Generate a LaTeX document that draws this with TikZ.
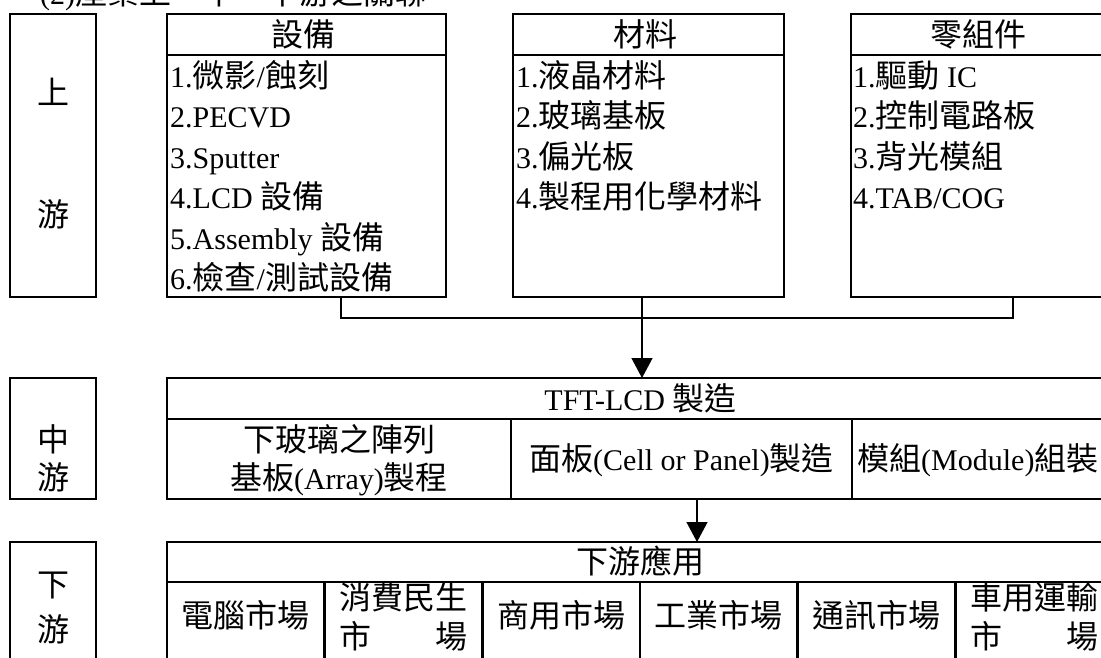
\documentclass[tikz,border=0pt]{standalone}
\usepackage{fontspec}
\setmainfont{Liberation Serif}
\newfontfamily\cjkf{Noto Sans CJK TC}[Scale=1.0667]
\newcommand\zh[1]{{\cjkf #1}}
\usetikzlibrary{arrows.meta}
\begin{document}
\begin{tikzpicture}[x=1pt,y=-1pt, font=\fontsize{30}{36}\selectfont,
  frame/.style={draw, line width=2.4pt, inner sep=0pt, outer sep=0pt},
  sepline/.style={line width=2.4pt},
  conn/.style={line width=1.3pt},
  txt/.style={inner sep=0pt, text height=23pt, text depth=0pt},
  item/.style={txt, anchor=west},
  tip/.style={-{Triangle[width=21pt,length=20pt]}}]
\clip (0,0) rectangle (1101,657);
\fill[white] (0,0) rectangle (1101,657);

% title (clipped at the top, as in the reference)
\node[item] (title) at (40,-7) {(2)\zh{產業上、中、下游之關聯}};

% ---------- upstream ----------
\node[frame, minimum width=86, minimum height=283] (upL) at (53,155.5) {};
\node[txt] (upA) at (53,93) {\zh{上}};
\node[txt] (upB) at (53,215) {\zh{游}};

\node[frame, minimum width=279, minimum height=283] (dev) at (306.5,155.5) {};
\draw[sepline] ([yshift=-41pt]dev.north west) -- ([yshift=-41pt]dev.north east);
\node[txt] (devH) at (303,34.5) {\zh{設備}};
\node[item] (dev1) at (170,76) {1.\zh{微影}/\zh{蝕刻}};
\node[item] (dev2) at (170,116) {2.PECVD};
\node[item] (dev3) at (170,157) {3.Sputter};
\node[item] (dev4) at (170,197) {4.LCD \zh{設備}};
\node[item] (dev5) at (170,238) {5.Assembly \zh{設備}};
\node[item] (dev6) at (170,278) {6.\zh{檢查}/\zh{測試設備}};

\node[frame, minimum width=271, minimum height=283] (mat) at (648.5,155.5) {};
\draw[sepline] ([yshift=-41pt]mat.north west) -- ([yshift=-41pt]mat.north east);
\node[txt] (matH) at (645,34.5) {\zh{材料}};
\node[item] (mat1) at (516,76) {1.\zh{液晶材料}};
\node[item] (mat2) at (516,116) {2.\zh{玻璃基板}};
\node[item] (mat3) at (516,157) {3.\zh{偏光板}};
\node[item] (mat4) at (516,197) {4.\zh{製程用化學材料}};

\node[frame, minimum width=270, minimum height=283] (comp) at (986,155.5) {};
\draw[sepline] ([yshift=-41pt]comp.north west) -- ([yshift=-41pt]comp.north east);
\node[txt] (compH) at (978,34.5) {\zh{零組件}};
\node[item] (comp1) at (853,76) {1.\zh{驅動} IC};
\node[item] (comp2) at (853,116) {2.\zh{控制電路板}};
\node[item] (comp3) at (853,157) {3.\zh{背光模組}};
\node[item] (comp4) at (853,197) {4.TAB/COG};

% ---------- midstream ----------
\node[frame, minimum width=86, minimum height=121] (midL) at (53,438.5) {};
\node[txt] (midA) at (53,440) {\zh{中}};
\node[txt] (midB) at (53,478) {\zh{游}};

\node[frame, minimum width=947, minimum height=121] (tft) at (640.5,438.5) {};
\draw[sepline] ([yshift=-41pt]tft.north west) -- ([yshift=-41pt]tft.north east);
\draw[sepline] ([xshift=344pt,yshift=-41pt]tft.north west) -- ([xshift=344pt]tft.south west);
\draw[sepline] ([xshift=685pt,yshift=-41pt]tft.north west) -- ([xshift=685pt]tft.south west);
\node[txt] (tftH) at (640.5,399) {TFT-LCD \zh{製造}};
\node[txt] (arrA) at (339,440) {\zh{下玻璃之陣列}};
\node[txt] (arrB) at (339,478) {\zh{基板}(Array)\zh{製程}};
\node[txt] (cell) at (681.5,459) {\zh{面板}(Cell or Panel)\zh{製造}};
\node[item] (modu) at (857,459) {\zh{模組}(Module)\zh{組裝}};

% ---------- downstream ----------
\node[frame, minimum width=86, minimum height=160] (lowL) at (53,622) {};
\node[txt] (lowA) at (53,585) {\zh{下}};
\node[txt] (lowB) at (53,630) {\zh{游}};

\node[frame, minimum width=946, minimum height=160] (app) at (640,622) {};
\draw[sepline] ([yshift=-40pt]app.north west) -- ([yshift=-40pt]app.north east);
\foreach \k in {1,...,5} {
  \draw[sepline] ([xshift=\k*157.67pt,yshift=-40pt]app.north west) -- ([xshift=\k*157.67pt]app.south west);
}
\node[txt] (appH) at (640,562) {\zh{下游應用}};
\node[txt] (mk1) at (245.8,616) {\zh{電腦市場}};
\node[txt] (mk2a) at (403.5,598) {\zh{消費民生}};
\node[txt] (mk2b) at (403.5,637) {\zh{\makebox[128pt]{市\hfill 場}}};
\node[txt] (mk3) at (561.2,616) {\zh{商用市場}};
\node[txt] (mk4) at (718.8,616) {\zh{工業市場}};
\node[txt] (mk5) at (876.5,616) {\zh{通訊市場}};
\node[txt] (mk6a) at (1034.2,598) {\zh{車用運輸}};
\node[txt] (mk6b) at (1034.2,637) {\zh{\makebox[128pt]{市\hfill 場}}};

% ---------- connectors ----------
\coordinate (c1) at (341,318);
\coordinate (c2) at (1013,318);
\coordinate (a1) at (642,318);
\coordinate (a2) at (697,520);
\draw[conn] (dev.south -| c1) -- (c1) -- (c2) -- (comp.south -| c2);
\draw[conn,tip] (mat.south -| a1) -- (tft.north -| a1);
\draw[conn,tip] (tft.south -| a2) -- (app.north -| a2);
\end{tikzpicture}
\end{document}
